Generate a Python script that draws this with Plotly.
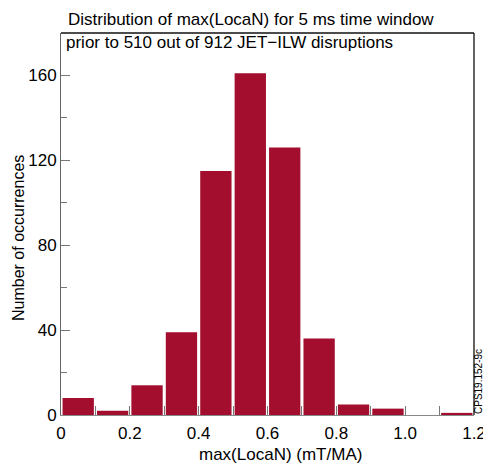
import plotly.graph_objects as go

# Histogram of max(LocaN) values, bins of 0.1 mT/MA
bin_centers = [0.05, 0.15, 0.25, 0.35, 0.45, 0.55, 0.65, 0.75, 0.85, 0.95, 1.05, 1.15]
counts = [8, 2, 14, 39, 115, 161, 126, 36, 5, 3, 0, 1]

x_tick_vals = [0, 0.2, 0.4, 0.6, 0.8, 1.0, 1.2]
x_tick_text = ["0", "0.2", "0.4", "0.6", "0.8", "1.0", "1.2"]
y_tick_vals = [0, 40, 80, 120, 160]

BAR_COLOR = "#a30e2e"
FONT = "Liberation Sans, Arial, sans-serif"

W, H = 483, 463
L, R, T, B = 61, 9, 33, 48
plot_w = W - L - R
plot_h = H - T - B


def py_to_paper(py):
    """Convert a pixel row (from the top of the page) to paper y."""
    return (H - B - py) / plot_h


def px_to_paper(px):
    """Convert a pixel column (from the left of the page) to paper x."""
    return (px - L) / plot_w


fig = go.Figure(
    go.Bar(
        x=bin_centers,
        y=counts,
        width=0.091,
        marker=dict(color=BAR_COLOR, line=dict(width=0)),
    )
)

fig.update_layout(
    width=W,
    height=H,
    margin=dict(l=L, r=R, t=T, b=B, autoexpand=False),
    paper_bgcolor="white",
    plot_bgcolor="white",
    font=dict(family=FONT, color="black", size=17),
    showlegend=False,
    xaxis=dict(
        range=[0, 1.2],
        tickvals=x_tick_vals,
        ticktext=x_tick_text,
        ticks="inside",
        ticklen=9,
        tickwidth=1,
        tickcolor="#777",
        minor=dict(ticks="inside", ticklen=9, dtick=0.1, tick0=0, tickcolor="#777"),
        showline=True,
        linecolor="#888",
        linewidth=1,
        showgrid=False,
        zeroline=False,
        tickfont=dict(size=17),
        ticklabelstandoff=3,
        ticklabeloverflow="allow",
        automargin=False,
    ),
    yaxis=dict(
        range=[0, 180],
        tickvals=y_tick_vals,
        ticks="inside",
        ticklen=9,
        tickwidth=1,
        tickcolor="#777",
        minor=dict(ticks="inside", ticklen=6, dtick=20, tick0=0, tickcolor="#777"),
        showline=True,
        linecolor="#666",
        linewidth=1,
        showgrid=False,
        zeroline=False,
        tickfont=dict(size=17),
        ticklabelstandoff=0,
        ticklabeloverflow="allow",
        automargin=False,
    ),
    shapes=[
        # top and right frame lines
        dict(type="line", xref="paper", yref="paper", x0=0, x1=1, y0=1, y1=1,
             line=dict(color="#111", width=1.3)),
        dict(type="line", xref="paper", yref="paper", x0=1, x1=1, y0=0, y1=1,
             line=dict(color="#111", width=1.3)),
    ],
    annotations=[
        dict(text="Distribution of max(LocaN) for 5 ms time window",
             xref="paper", yref="paper", x=px_to_paper(66), y=py_to_paper(20),
             xanchor="left", yanchor="middle", showarrow=False,
             font=dict(size=17)),
        dict(text="prior to 510 out of 912 JET\u2212ILW disruptions",
             xref="paper", yref="paper", x=px_to_paper(64), y=py_to_paper(42.5),
             xanchor="left", yanchor="middle", showarrow=False,
             font=dict(size=17)),
        dict(text="max(LocaN) (mT/MA)",
             xref="paper", yref="paper", x=px_to_paper(280), y=py_to_paper(454),
             xanchor="center", yanchor="middle", showarrow=False,
             font=dict(size=17)),
        dict(text="Number of occurrences",
             xref="paper", yref="paper", x=px_to_paper(18), y=py_to_paper(238),
             xanchor="center", yanchor="middle", textangle=-90, showarrow=False,
             font=dict(size=16)),
        dict(text="CPS19.152-9c",
             xref="paper", yref="paper", x=px_to_paper(478), y=py_to_paper(382),
             xanchor="center", yanchor="middle", textangle=-90, showarrow=False,
             font=dict(size=10)),
    ],
)

fig.write_html("out.html")
